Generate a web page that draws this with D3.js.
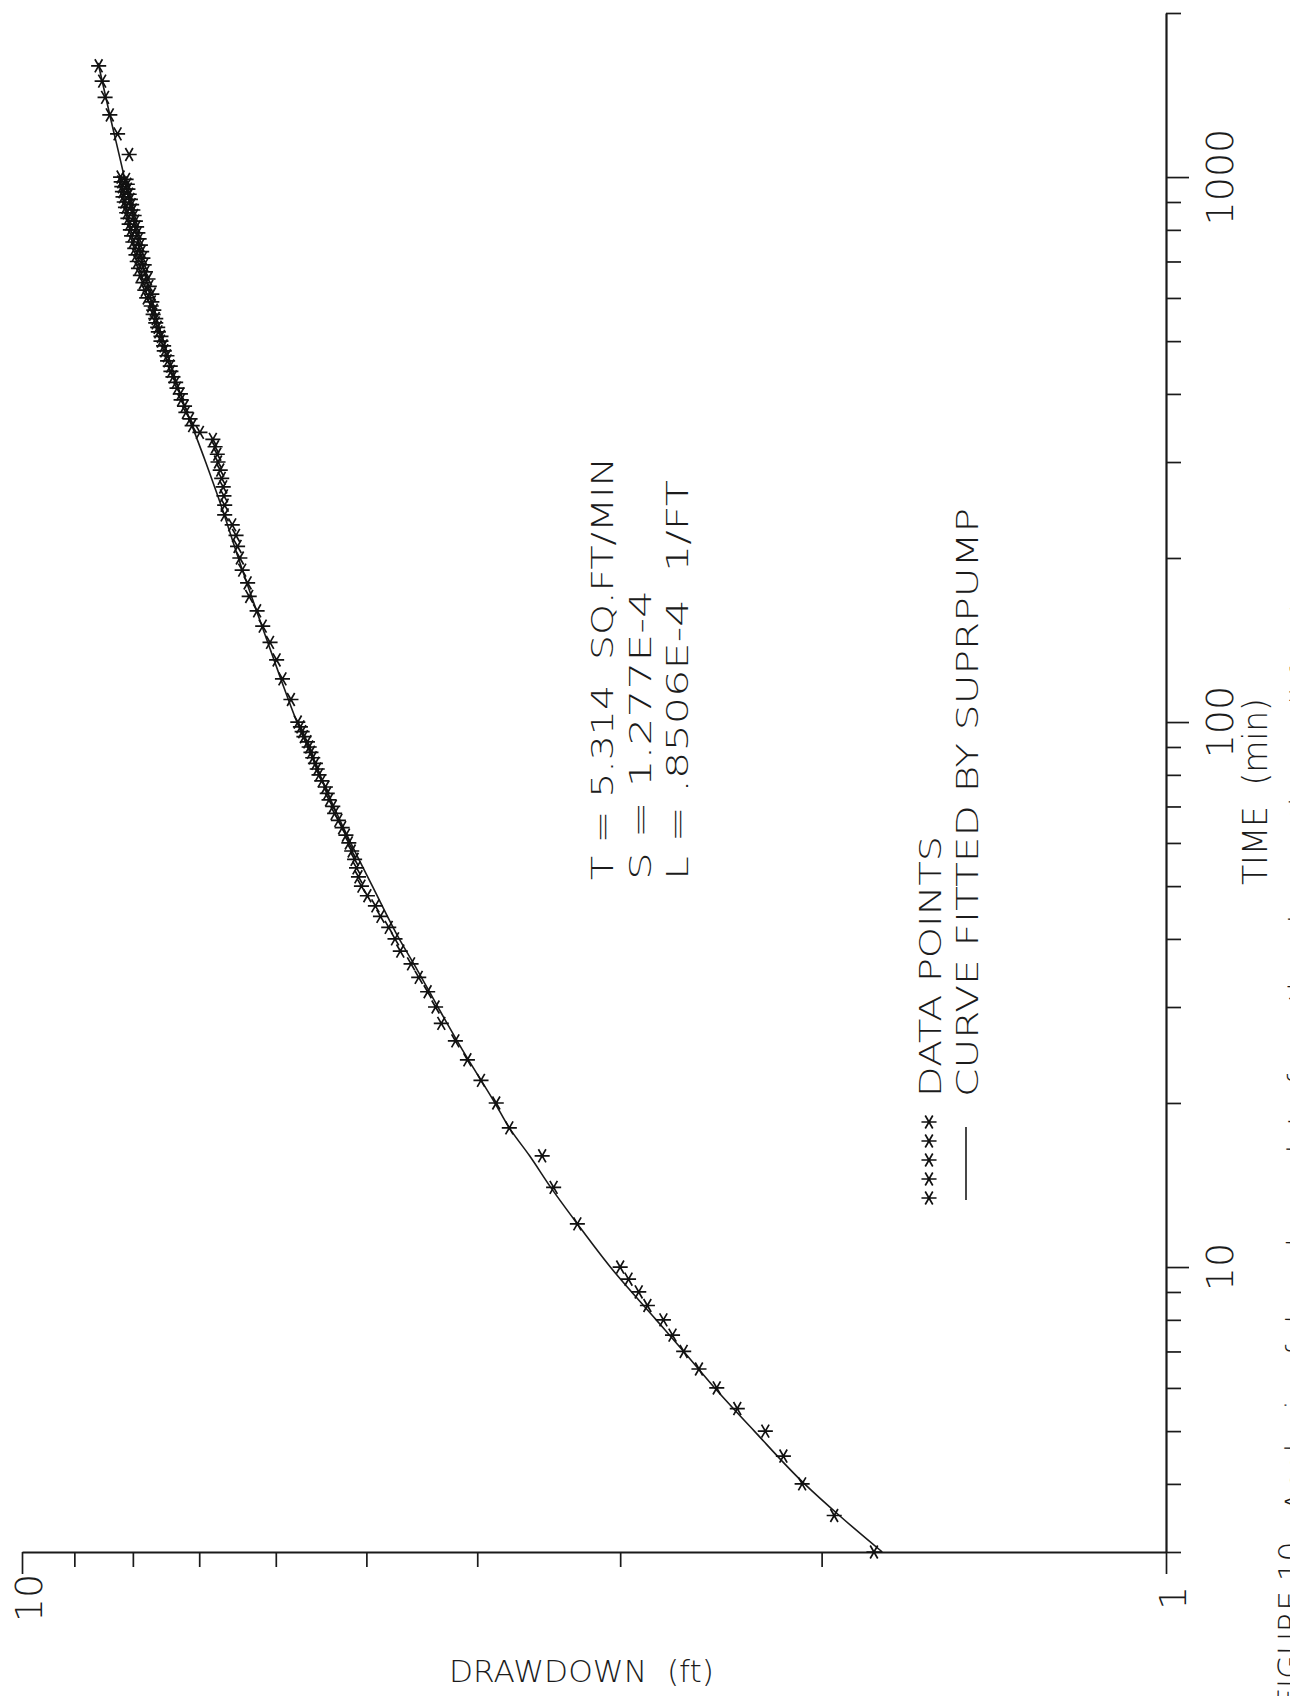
<!DOCTYPE html>
<html>
<head>
<meta charset="utf-8">
<script src="https://cdn.jsdelivr.net/npm/d3@7"></script>
<style>
    html, body { margin: 0; padding: 0; background: #fff; }
    svg { display: block; }
    text { font-family: "DejaVu Sans", "Liberation Sans", sans-serif; font-weight: 200; fill: #1c1c1c; white-space: pre; }
</style>
</head>
<body>
<div class="chart"></div>
<script>

// observed drawdown (ft) against time since pumping began (min)
const pointTime = [
    3, 3.5, 4, 4.5, 5, 5.5, 6, 6.5, 7, 7.5, 8, 8.5, 9, 9.5, 10, 12, 14, 16,
    18, 20, 22, 24, 26, 28, 30, 32, 34, 36, 38, 40, 42, 44, 46, 48, 50, 52, 54, 56, 58,
    60, 62, 64, 66, 68, 70, 72, 74, 76, 78, 80, 82, 84, 86, 88, 90, 92, 94, 96, 98, 100,
    110, 120, 130, 140, 150, 160, 170, 180, 190, 200, 210, 220, 230,
    240, 250, 260, 270, 280, 290, 300, 310, 320, 330,
    340, 350, 360, 370, 380, 390, 400, 410, 420, 430, 440, 450, 460, 470, 480, 490,
    500, 510, 520, 530, 540, 550, 560, 570, 580, 590, 600, 610, 620, 630, 640, 650,
    660, 670, 680, 690, 700, 710, 720, 730, 740, 750, 760, 770, 780, 790, 800, 810,
    820, 830, 840, 850, 860, 870, 880, 890, 900, 910, 920, 930, 940, 950, 960, 970,
    980, 990, 1000,
    1100, 1200, 1300, 1400, 1500, 1600
];
const pointDraw = [
    1.80, 1.95, 2.08, 2.16, 2.24, 2.37, 2.47, 2.56, 2.64, 2.70, 2.75, 2.84, 2.89, 2.95, 3.00, 3.27, 3.43, 3.51,
    3.75, 3.85, 3.97, 4.08, 4.18, 4.30, 4.35, 4.42, 4.50, 4.57, 4.67, 4.72, 4.78, 4.86, 4.91, 4.99, 5.05, 5.08, 5.10, 5.12, 5.15,
    5.18, 5.21, 5.25, 5.29, 5.33, 5.35, 5.39, 5.41, 5.43, 5.47, 5.50, 5.52, 5.54, 5.57, 5.59, 5.61, 5.63, 5.67, 5.69, 5.71, 5.74,
    5.82, 5.92, 5.99, 6.07, 6.16, 6.23, 6.33, 6.35, 6.42, 6.45, 6.48, 6.50, 6.55,
    6.65, 6.65, 6.66, 6.67, 6.69, 6.71, 6.74, 6.75, 6.78, 6.81,
    6.99, 7.10, 7.13, 7.19, 7.21, 7.26, 7.27, 7.32, 7.34, 7.38, 7.41, 7.42, 7.46, 7.47, 7.51, 7.52,
    7.56, 7.56, 7.60, 7.61, 7.64, 7.64, 7.68, 7.67, 7.71, 7.70, 7.78, 7.70, 7.81, 7.74, 7.84, 7.76,
    7.88, 7.80, 7.91, 7.82, 7.93, 7.84, 7.95, 7.86, 7.97, 7.88, 8.00, 7.90, 8.02, 7.92, 8.04, 7.94,
    8.06, 7.96, 8.08, 7.98, 8.10, 8.00, 8.12, 8.02, 8.14, 8.04, 8.16, 8.06, 8.17, 8.08, 8.18, 8.09,
    8.19, 8.11, 8.20,
    8.06, 8.25, 8.38, 8.46, 8.51, 8.57
];

// curve fitted by SUPRPUMP
const curveTime = [3, 3.5, 4, 5, 6, 7, 8, 10, 12, 14, 16, 18, 20, 25, 30, 35, 40, 50, 60, 70, 80,
    100, 120, 150, 200, 250, 300, 400, 500, 600, 800, 1000, 1300, 1620];
const curveDraw = [1.77, 1.93, 2.07, 2.29, 2.48, 2.64, 2.79, 3.06, 3.27, 3.45, 3.60, 3.75, 3.86, 4.12, 4.33, 4.51, 4.68, 4.94, 5.16, 5.34, 5.49,
    5.75, 5.94, 6.17, 6.47, 6.70, 6.91, 7.27, 7.52, 7.72, 7.96, 8.14, 8.38, 8.58];

const drawTicks = [10, 9, 8, 7, 6, 5, 4, 3, 2, 1];
const drawLabels = [10, 1];
const timeTicks = [3, 4, 5, 6, 7, 8, 9, 10, 20, 30, 40, 50, 60, 70, 80, 90, 100,
    200, 300, 400, 500, 600, 700, 800, 900, 1000, 2000];
const timeLabels = [10, 100, 1000];

const fitLines = ["T = 5.314  SQ.FT/MIN", "S = 1.277E-4", "L = .8506E-4  1/FT"];
const legendLabels = ["DATA POINTS", "CURVE FITTED BY SUPRPUMP"];

const W = 1290, H = 1696;
const plotLeft = 22, plotRight = 1166, plotTop = 13, plotBottom = 1552;

const svg = d3.select(".chart").append("svg")
    .attr("width", W)
    .attr("height", H)
    .attr("viewBox", "0 0 " + W + " " + H)
    .style("overflow", "hidden");

// drawdown runs along the bottom (log, 10 on the left), time runs up the right side (log)
const x = d3.scaleLog().domain([10, 1]).range([plotLeft, plotRight]);
const y = d3.scaleLog().domain([3, 2000]).range([plotBottom, plotTop]);

const xAxis = svg.append("g")
    .attr("transform", "translate(0," + plotBottom + ")")
    .call(d3.axisBottom(x).tickValues(drawTicks).tickSize(15).tickSizeOuter(0).tickFormat(""));

xAxis.select(".domain").attr("stroke", "#1a1a1a").attr("stroke-width", 2.2);
xAxis.selectAll(".tick line")
    .attr("stroke", "#1a1a1a")
    .attr("stroke-width", 1.7)
    .attr("y2", d => drawLabels.includes(d) ? 22 : 15);

const yAxis = svg.append("g")
    .attr("transform", "translate(" + plotRight + ",0)")
    .call(d3.axisRight(y).tickValues(timeTicks).tickSize(15).tickSizeOuter(0).tickFormat(""));

yAxis.select(".domain").attr("stroke", "#1a1a1a").attr("stroke-width", 2.2);
yAxis.selectAll(".tick line")
    .attr("stroke", "#1a1a1a")
    .attr("stroke-width", 1.7)
    .attr("x2", d => timeLabels.includes(d) ? 23 : 15);

// tick labels, printed sideways like the rest of the page
svg.selectAll(".draw-label")
    .data(drawLabels)
    .join("text")
    .attr("class", "draw-label")
    .attr("transform", d => "translate(" + (x(d) + 20) + ",1598) rotate(-90)")
    .attr("text-anchor", "middle")
    .attr("font-size", 38)
    .text(d => d);

svg.selectAll(".time-label")
    .data(timeLabels)
    .join("text")
    .attr("class", "time-label")
    .attr("transform", d => "translate(1233," + y(d) + ") rotate(-90)")
    .attr("text-anchor", "middle")
    .attr("font-size", 38)
    .text(d => d);

svg.append("text")
    .attr("x", 449)
    .attr("y", 1682)
    .attr("font-size", 30)
    .attr("textLength", 265)
    .attr("lengthAdjust", "spacingAndGlyphs")
    .text("DRAWDOWN  (ft)");

svg.append("text")
    .attr("transform", "translate(1267,885) rotate(-90)")
    .attr("font-size", 33)
    .attr("textLength", 187)
    .text("TIME  (min)");

// fitted parameters
svg.selectAll(".fit")
    .data(fitLines)
    .join("text")
    .attr("class", "fit")
    .attr("transform", (d, i) => "translate(" + (613 + i * 37.5) + ",880) rotate(-90)")
    .attr("font-size", 30)
    .attr("textLength", (d, i) => [423, 290, 400][i])
    .attr("lengthAdjust", "spacingAndGlyphs")
    .text(d => d);

// fitted curve
const line = d3.line()
    .x(d => x(d[1]))
    .y(d => y(d[0]))
    .curve(d3.curveMonotoneY);

svg.append("path")
    .datum(d3.zip(curveTime, curveDraw))
    .attr("fill", "none")
    .attr("stroke", "#1a1a1a")
    .attr("stroke-width", 1.6)
    .attr("d", line);

// data points as asterisks
const star = d3.symbol().type(d3.symbolAsterisk).size(160);

svg.append("g")
    .selectAll("path")
    .data(d3.zip(pointTime, pointDraw))
    .join("path")
    .attr("transform", d => "translate(" + x(d[1]) + "," + y(d[0]) + ") rotate(90)")
    .attr("d", star)
    .attr("fill", "none")
    .attr("stroke", "#111")
    .attr("stroke-width", 1.7);

// legend
const legend = svg.append("g");

legend.selectAll(".key-star")
    .data([0, 1, 2, 3, 4])
    .join("path")
    .attr("class", "key-star")
    .attr("transform", i => "translate(929," + (1198 - i * 19) + ") rotate(90)")
    .attr("d", star)
    .attr("fill", "none")
    .attr("stroke", "#111")
    .attr("stroke-width", 1.7);

legend.append("line")
    .attr("x1", 966).attr("x2", 966)
    .attr("y1", 1200).attr("y2", 1127)
    .attr("stroke", "#1a1a1a")
    .attr("stroke-width", 1.6);

legend.selectAll(".key-text")
    .data(legendLabels)
    .join("text")
    .attr("class", "key-text")
    .attr("transform", (d, i) => "translate(" + (941 + i * 37) + ",1097) rotate(-90)")
    .attr("font-size", 30)
    .attr("textLength", (d, i) => [261, 589][i])
    .attr("lengthAdjust", "spacingAndGlyphs")
    .text(d => d);

// figure caption, cut off by the page edge (slightly skewed on the scan)
const caption = svg.append("text")
    .attr("transform", "translate(1300,1706) rotate(-89.6)")
    .attr("font-size", 31);

caption.append("tspan").text("FIGURE 10.");
caption.append("tspan")
    .attr("dy", 6)
    .text("  Analysis of drawdown data from the observation well for the test");

</script>
</body>
</html>
